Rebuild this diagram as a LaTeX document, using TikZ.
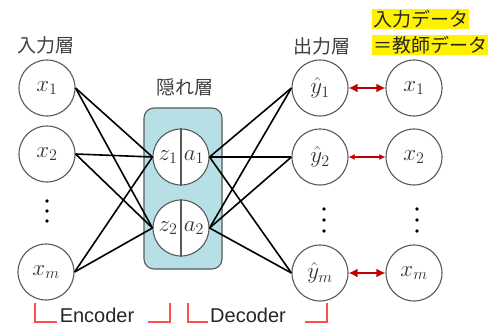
\RequirePackage{fix-cm}
\documentclass[tikz,border=0pt]{standalone}
\usepackage{fontspec}
\setmainfont{Liberation Sans}
\newfontfamily\jp{Noto Sans CJK JP}
\usetikzlibrary{arrows.meta}
\definecolor{boxfill}{RGB}{183,224,230}
\definecolor{errred}{RGB}{192,0,0}
\definecolor{brkred}{RGB}{255,80,80}
\begin{document}
\begin{tikzpicture}[x=1pt,y=-1pt,
  neuron/.style={circle,draw=black!65,line width=1.1pt,fill=white,minimum size=56pt,inner sep=0pt,font=\fontsize{23}{26}\selectfont,text=black!80},
  mathlbl/.style={inner sep=0pt,font=\fontsize{23}{26}\selectfont,text=black!80},
  conn/.style={line width=1.6pt,black},
  errthick/.style={{Latex[length=9pt,width=9pt]}-{Latex[length=9pt,width=9pt]},draw=errred,line width=2.6pt},
  errthin/.style={{Latex[length=6pt,width=6pt]}-{Latex[length=6pt,width=6pt]},draw=errred,line width=1.2pt},
  lbl/.style={font=\jp\fontsize{19}{22}\selectfont,text=black!75,inner sep=0pt},
  hl/.style={font=\jp\fontsize{19}{22}\selectfont,text=black!85,fill=yellow,inner xsep=1pt,inner ysep=1pt,anchor=west},
  brk/.style={draw=brkred,line width=1.3pt},
  brktext/.style={font=\fontsize{20}{24}\selectfont,text=black!85,inner sep=0pt,anchor=base},
  hidbox/.style={draw=black!65,line width=1.1pt,fill=boxfill,rounded corners=10pt},
  dotf/.style={fill=black}
]
\useasboundingbox (0,0) rectangle (495,327);
\fill[white] (0,0) rectangle (495,327);

% hidden layer box
\draw[hidbox] (144,108) rectangle (222,269);

% labels
\node[lbl] (linput) at (46,45) {入力層};
\node[lbl] (lhidden) at (185,87) {隠れ層};
\node[lbl] (loutput) at (322,46) {出力層};
\node[hl] (hl1) at (372,19) {入力データ};
\node[hl] (hl2) at (372,45) {＝教師データ};

% input nodes
\node[neuron] (x1) at (47,88) {$x_1$};
\node[neuron] (x2) at (47,154) {$x_2$};
\node[neuron] (xm) at (46,272) {$x_m$};

% hidden nodes
\node[neuron] (h1) at (181,157) {};
\node[neuron] (h2) at (181,228) {};
\draw[draw=black!65,line width=1.1pt] (h1.north) -- (h1.south);
\draw[draw=black!65,line width=1.1pt] (h2.north) -- (h2.south);
\node[mathlbl] (z1) at ([xshift=-13pt]h1.center) {$z_1$};
\node[mathlbl] (a1) at ([xshift=13pt]h1.center) {$a_1$};
\node[mathlbl] (z2) at ([xshift=-13pt]h2.center) {$z_2$};
\node[mathlbl] (a2) at ([xshift=13pt]h2.center) {$a_2$};

% output nodes
\node[neuron] (y1) at (320,88) {$\hat{y}_1$};
\node[neuron] (y2) at (320,157) {$\hat{y}_2$};
\node[neuron] (ym) at (320,273) {$\hat{y}_m$};

% target nodes
\node[neuron] (t1) at (414,88) {$x_1$};
\node[neuron] (t2) at (414,157) {$x_2$};
\node[neuron] (tm) at (414,273) {$x_m$};

% connections
\foreach \i in {x1,x2,xm}{
  \foreach \j in {h1,h2}{
    \draw[conn] (\i.east) -- (\j.west);
  }
}
\foreach \j in {h1,h2}{
  \foreach \o in {y1,y2,ym}{
    \draw[conn] (\j.east) -- (\o.west);
  }
}

% error arrows
\draw[errthick] (y1.east) -- (t1.west);
\draw[errthin] (y2.east) -- (t2.west);
\draw[errthick] (ym.east) -- (tm.west);

% dots
\foreach \yy in {201,211,221}{ \fill[dotf] (47,\yy) circle (1.9); }
\foreach \yy in {209,220,231}{ \fill[dotf] (324,\yy) circle (1.9); \fill[dotf] (417,\yy) circle (1.9); }

% encoder / decoder brackets
\draw[brk] (35,303) -- (35,322) -- (57,322);
\node[brktext] (enc) at (97,322) {Encoder};
\draw[brk] (148,322) -- (170,322) -- (170,303);
\draw[brk] (188,303) -- (188,322) -- (208,322);
\node[brktext] (dec) at (248,322) {Decoder};
\draw[brk] (305,322) -- (327,322) -- (327,303);
\end{tikzpicture}
\end{document}
